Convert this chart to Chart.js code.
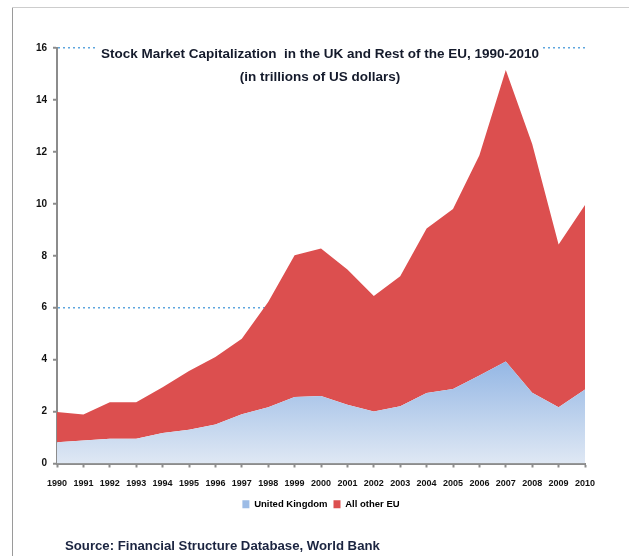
<!DOCTYPE html>
<html>
<head>
<meta charset="utf-8">
<script src="https://cdn.jsdelivr.net/npm/chart.js@4"></script>
<style>
  body { margin: 0; background: #fff; }
  #wrap { position: relative; width: 629px; height: 556px; overflow: hidden; }
  #frame-left { position: absolute; left: 12px; top: 7px; width: 1px; height: 549px; background: #9a9a9a; }
  #frame-top { position: absolute; left: 12px; top: 7px; width: 617px; height: 1px; background: #cdcdcd; }
  #title {
    position: absolute; left: 0; width: 640px; top: 42px; text-align: center;
    font: bold 13.5px "Liberation Sans", Arial, sans-serif; color: #141a2b; line-height: 23px;
  }
  #title span { background: #fff; padding: 0 3px; }
  #source {
    position: absolute; left: 65px; top: 538px;
    font: bold 13.2px "Liberation Sans", Arial, sans-serif; color: #1b2440;
  }
</style>
</head>
<body>
<div id="wrap">
  <canvas id="chart" width="629" height="556"></canvas>
  <div id="frame-left"></div>
  <div id="frame-top"></div>
  <div id="title"><span>Stock Market Capitalization&nbsp; in the UK and Rest of the EU, 1990-2010</span><br><span>(in trillions of US dollars)</span></div>
  <div id="source">Source: Financial Structure Database, World Bank</div>
</div>
<script>
// Chart data (trillions of US dollars)
const years = ['1990', '1991', '1992', '1993', '1994', '1995', '1996', '1997', '1998', '1999', '2000',
  '2001', '2002', '2003', '2004', '2005', '2006', '2007', '2008', '2009', '2010'];
const unitedKingdom = [0.82, 0.89, 0.95, 0.95, 1.17, 1.30, 1.50, 1.90, 2.17, 2.56, 2.60,
  2.26, 2.00, 2.20, 2.71, 2.87, 3.39, 3.93, 2.72, 2.17, 2.85];
const allOtherEU = [1.16, 1.00, 1.41, 1.41, 1.77, 2.26, 2.60, 2.90, 4.05, 5.46, 5.68,
  5.21, 4.45, 5.01, 6.34, 6.93, 8.48, 11.22, 9.58, 6.26, 7.10];
const yTicks = [0, 2, 4, 6, 8, 10, 12, 14, 16];
const dottedAt = [6, 16];

const labelFont = { family: '"Liberation Sans", Arial, sans-serif', weight: 'bold' };

// blue gradient for the UK area
function ukFill(context) {
  const chart = context.chart;
  const { chartArea } = chart;
  if (!chartArea) return '#b7cdec';
  const yScale = chart.scales.y;
  const g = chart.ctx.createLinearGradient(0, yScale.getPixelForValue(4), 0, chartArea.bottom);
  g.addColorStop(0, '#93b6e4');
  g.addColorStop(1, '#dfe8f4');
  return g;
}

const ctx = document.getElementById('chart').getContext('2d');
const chart = new Chart(ctx, {
  type: 'line',
  data: {
    labels: years,
    datasets: [
      {
        label: 'United Kingdom',
        data: unitedKingdom,
        fill: 'origin',
        backgroundColor: ukFill,
        borderWidth: 0,
        pointRadius: 0,
        tension: 0
      },
      {
        label: 'All other EU',
        data: allOtherEU,
        fill: '-1',
        backgroundColor: '#dc4f4f',
        borderWidth: 0,
        pointRadius: 0,
        tension: 0
      }
    ]
  },
  options: {
    responsive: false,
    animation: false,
    layout: { padding: { top: 48, right: 44, bottom: 37, left: 0 } },
    plugins: {
      title: { display: false },
      tooltip: { enabled: false },
      legend: {
        position: 'bottom',
        fullSize: false,
        labels: {
          boxWidth: 7,
          boxHeight: 8,
          padding: 6,
          color: '#111',
          font: { ...labelFont, size: 9.5 },
          generateLabels: (c) => c.data.datasets.map((ds, i) => ({
            text: ds.label,
            fillStyle: i === 0 ? '#9dbce6' : '#dc4f4f',
            strokeStyle: 'transparent',
            lineWidth: 0,
            datasetIndex: i
          }))
        }
      }
    },
    scales: {
      x: {
        offset: false,
        grid: { drawOnChartArea: false, drawTicks: true, tickLength: 4, tickColor: '#8c8c8c', tickWidth: 2 },
        border: { color: '#8c8c8c', width: 2 },
        ticks: { color: '#111', font: { ...labelFont, size: 9 }, padding: 11, maxRotation: 0, autoSkip: false },
        afterFit: (scale) => { scale.height = 30; }
      },
      y: {
        stacked: true,
        min: 0,
        max: 16,
        afterBuildTicks: (scale) => { scale.ticks = yTicks.map(v => ({ value: v })); },
        grid: {
          color: (c) => dottedAt.includes(c.tick && c.tick.value) ? '#5ea6de' : 'rgba(0,0,0,0)',
          lineWidth: 1.5,
          tickLength: 4,
          tickColor: '#8c8c8c',
          tickWidth: 2,
          tickBorderDash: []
        },
        border: { color: '#8c8c8c', width: 2, dash: [2, 3] },
        ticks: { color: '#111', font: { ...labelFont, size: 10 }, padding: 6 },
        afterFit: (scale) => { scale.width = 57; }
      }
    }
  }
});
</script>
</body>
</html>
